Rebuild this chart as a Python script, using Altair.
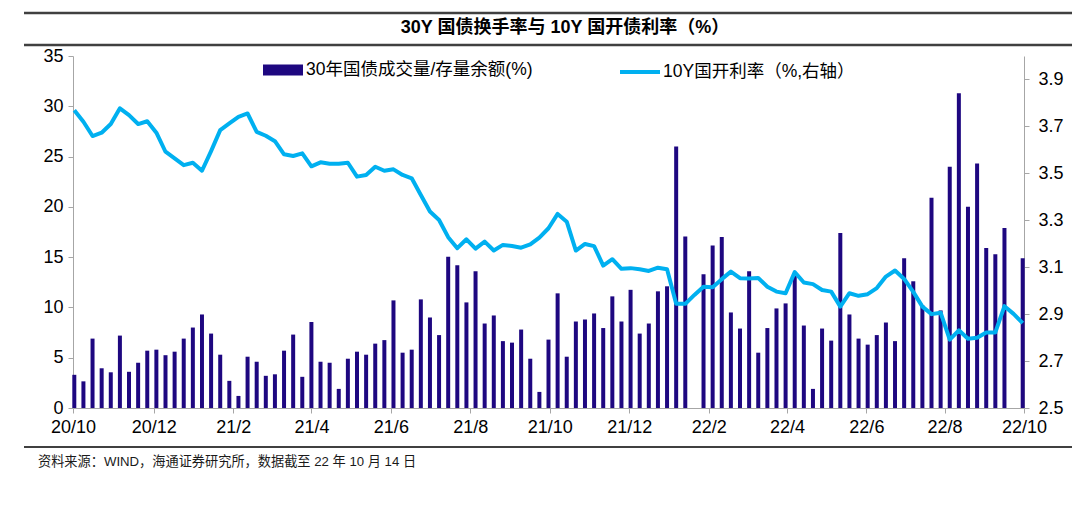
import altair as alt
import pandas as pd

# ---------------- data ----------------
turnover = [3.3, 2.65, 6.9, 3.95, 3.55, 7.2, 3.6, 4.5, 5.7, 5.8,
            5.25, 5.6, 6.9, 8.0, 9.3, 7.4, 5.3, 2.7, 1.2, 5.1,
            4.6, 3.2, 3.35, 5.7, 7.3, 3.1, 8.55, 4.6, 4.5, 1.9,
            4.9, 5.6, 5.3, 6.4, 6.75, 10.7, 5.5, 5.8, 10.8, 9.0,
            7.25, 15.05, 14.2, 10.5, 13.6, 8.4, 9.2, 6.65, 6.5, 7.8,
            4.9, 1.6, 6.8, 11.4, 5.1, 8.6, 8.8, 9.4, 7.95, 11.1,
            8.6, 11.75, 7.4, 8.4, 11.6, 12.1, 26.0, 17.05, None, 13.3,
            16.15, 17.0, 9.5, 7.9, 13.6, 5.5, 7.95, 9.9, 10.4, 13.4,
            8.2, 1.9, 7.9, 6.7, 17.4, 9.3, 6.9, 6.3, 7.25, 8.5,
            6.65, 14.9, 12.6, 10.2, 20.9, 9.7, 24.0, 31.3, 20.0, 24.3,
            15.9, 15.3, 17.9, None, 14.9]

yield10 = [3.769, 3.72, 3.659, 3.673, 3.71, 3.777, 3.748, 3.71, 3.722, 3.673,
           3.592, 3.564, 3.535, 3.545, 3.511, 3.595, 3.684, 3.713, 3.741, 3.755,
           3.677, 3.66, 3.637, 3.581, 3.574, 3.585, 3.53, 3.547, 3.541, 3.541,
           3.545, 3.486, 3.493, 3.528, 3.511, 3.517, 3.493, 3.479, 3.408, 3.337,
           3.301, 3.228, 3.181, 3.219, 3.179, 3.209, 3.171, 3.195, 3.19, 3.183,
           3.197, 3.226, 3.266, 3.327, 3.294, 3.171, 3.199, 3.19, 3.107, 3.134,
           3.093, 3.096, 3.091, 3.084, 3.098, 3.091, 2.944, 2.944, 2.982, 3.017,
           3.015, 3.049, 3.081, 3.053, 3.052, 3.054, 3.017, 2.996, 2.989, 3.079,
           3.035, 3.028, 3.003, 2.996, 2.932, 2.989, 2.978, 2.985, 3.011, 3.06,
           3.086, 3.05, 2.995, 2.932, 2.9, 2.906, 2.791, 2.831, 2.795, 2.799,
           2.822, 2.822, 2.934, 2.901, 2.862]

week_dates = pd.date_range("2020-10-16", periods=len(turnover), freq="7D").strftime("%Y-%m-%dT00:00:00")

x_tick_dates = [(2020, 10, 15), (2020, 12, 16), (2021, 2, 15), (2021, 4, 16),
                (2021, 6, 16), (2021, 8, 16), (2021, 10, 16), (2021, 12, 16),
                (2022, 2, 15), (2022, 4, 16), (2022, 6, 16), (2022, 8, 15),
                (2022, 10, 15)]
left_ticks = [0, 5, 10, 15, 20, 25, 30, 35]
right_ticks = [2.5, 2.7, 2.9, 3.1, 3.3, 3.5, 3.7, 3.9]

bar_label = "30年国债成交量/存量余额(%)"
line_label = "10Y国开利率（%,右轴）"
title_text = "30Y 国债换手率与 10Y 国开债利率（%）"
source_text = "资料来源：WIND，海通证券研究所，数据截至 22 年 10 月 14 日"

# ---------------- styles ----------------
NAVY = "#1E0780"
SKY = "#00B0F0"
AXIS_GRAY = "#A6A6A6"
FONT = "Liberation Sans, Noto Sans CJK SC"

df = pd.DataFrame({
    "date": week_dates,
    "turnover": turnover,
    "yield": yield10,
    "s1": bar_label,
    "s2": line_label,
})

def dt(t):
    return alt.DateTime(year=t[0], month=t[1], date=t[2])

x_enc = alt.X(
    "date:T", title=None,
    scale=alt.Scale(domain=[dt(x_tick_dates[0]), dt(x_tick_dates[-1])], padding=0),
    axis=alt.Axis(values=[dt(t) for t in x_tick_dates],
                  labelExpr="timeFormat(datum.value, '%y/%-m')",
                  labelFlush=False, labelOverlap=False, grid=False,
                  tickSize=5, labelPadding=5),
)

bars = alt.Chart(df).transform_filter("isValid(datum.turnover)").mark_bar(size=4).encode(
    x=x_enc,
    y=alt.Y("turnover:Q", title=None,
            scale=alt.Scale(domain=[0, 35], nice=False),
            axis=alt.Axis(values=left_ticks, orient="left", grid=False,
                          tickSize=5, labelPadding=5)),
    fill=alt.Fill("s1:N",
                  scale=alt.Scale(domain=[bar_label], range=[NAVY]),
                  legend=alt.Legend(title=None, orient="none", legendX=190, legendY=-6,
                                    symbolType="M-1,-0.28H1V0.28H-1Z", symbolSize=1600,
                                    symbolStrokeWidth=0, labelOffset=3, labelLimit=400,
                                    padding=0)),
)

line = alt.Chart(df).mark_line(strokeWidth=4, strokeJoin="round").encode(
    x=x_enc,
    y=alt.Y("yield:Q", title=None,
            scale=alt.Scale(domain=[2.5, 4.0], nice=False, zero=False),
            axis=alt.Axis(values=right_ticks, format=".1f", orient="right",
                          grid=False, tickSize=5, labelPadding=9)),
    stroke=alt.Stroke("s2:N",
                      scale=alt.Scale(domain=[line_label], range=[SKY]),
                      legend=alt.Legend(title=None, orient="none", legendX=545, legendY=-6,
                                        symbolType="stroke", symbolSize=1600,
                                        symbolStrokeWidth=4, labelOffset=1, labelLimit=400,
                                        padding=0)),
)

one = pd.DataFrame({"k": [0]})
rule_top = alt.Chart(one).mark_rule(color="#404040", strokeWidth=2.5).encode(
    x=alt.value(-49), x2=alt.value(1000), y=alt.value(-43))
rule_mid = alt.Chart(one).mark_rule(color="#404040", strokeWidth=2.5).encode(
    x=alt.value(-49), x2=alt.value(1000), y=alt.value(-11))
rule_bot = alt.Chart(one).mark_rule(color="#404040", strokeWidth=2).encode(
    x=alt.value(-49), x2=alt.value(1000), y=alt.value(391))

title = alt.Chart(pd.DataFrame({"t": [title_text]})).mark_text(
    align="center", baseline="middle", fontSize=18, fontWeight="bold", font=FONT,
    color="#000000"
).encode(x=alt.value(492), y=alt.value(-28), text="t:N")

footer = alt.Chart(pd.DataFrame({"t": [source_text]})).mark_text(
    align="left", baseline="middle", fontSize=13.2, font=FONT, color="#1a1a1a"
).encode(x=alt.value(-35), y=alt.value(406), text="t:N")

chart = alt.layer(bars, line, rule_top, rule_mid, rule_bot, title, footer).resolve_scale(
    y="independent"
).properties(
    width=951, height=352,
    autosize=alt.AutoSizeParams(type="none"),
    padding={"left": 65, "top": 48, "right": 48, "bottom": 106},
).configure_axis(
    domainColor=AXIS_GRAY, tickColor=AXIS_GRAY, labelFont=FONT, labelFontSize=18,
    labelColor="#000000",
).configure_legend(
    labelFont=FONT, labelFontSize=17.5, labelColor="#000000",
).configure_view(strokeWidth=0)

chart.save("out.html", embed_options={"renderer": "svg", "actions": False})
